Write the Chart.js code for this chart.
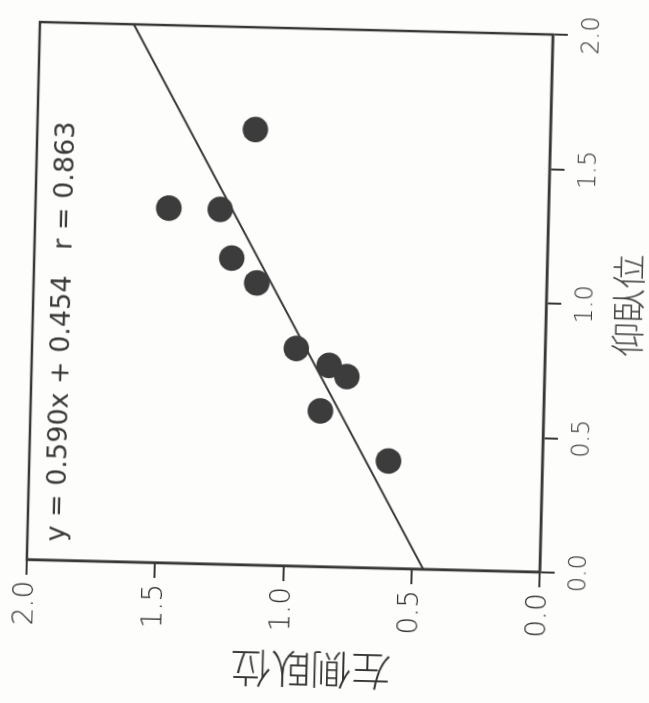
<!DOCTYPE html>
<html>
<head>
<meta charset="utf-8">
<script src="https://cdn.jsdelivr.net/npm/chart.js@4"></script>
<style>
  html, body { margin: 0; padding: 0; background: #fdfdfc; overflow: hidden; }
  body { width: 649px; height: 703px; position: relative; }
  /* the scanned figure is turned on its side, drawn upright then rotated */
  #wrap {
    position: absolute;
    left: -27px; top: 27px;
    width: 703px; height: 649px;
    transform: rotate(-88.6deg);
    transform-origin: 50% 50%;
  }
</style>
</head>
<body>
<div id="wrap"><canvas id="c" width="703" height="649"></canvas></div>
<script>
// 仰臥位 (x) vs 左側臥位 (y)
const supine = [1.62, 1.32, 1.32, 1.14, 1.05, 0.81, 0.75, 0.71, 0.58, 0.40];
const leftLateral = [1.15, 1.48, 1.28, 1.23, 1.13, 0.97, 0.84, 0.77, 0.87, 0.60];

// fitted line as printed on the figure
const slope = 0.590;
const intercept = 0.454;
const corr = 0.863;
const lineX = [0, 2];

const axisTicks = [0, 0.5, 1.0, 1.5, 2.0];
const xTitle = '仰臥位';
const yTitle = '左側臥位\u3000\u2002'; // trailing space nudges it off-centre like the scan

const ink = '#383838';
const font = '"DejaVu Sans", "Liberation Sans", sans-serif';
const cjk = '"Noto Sans CJK JP", sans-serif';

const frame = {
  id: 'frame',
  beforeDatasetsDraw(chart) {
    const { ctx, chartArea: a } = chart;
    ctx.save();
    ctx.strokeStyle = ink;
    ctx.lineWidth = 2.5;
    ctx.strokeRect(a.left, a.top, a.right - a.left, a.bottom - a.top);
    ctx.restore();
  },
  afterDraw(chart) {
    const { ctx, chartArea: a } = chart;
    ctx.save();
    ctx.fillStyle = '#3a3a3a';
    ctx.font = '27px ' + font;
    ctx.textBaseline = 'middle';
    ctx.fillText('y = ' + slope.toFixed(3) + 'x + ' + intercept.toFixed(3) + '   r = ' + corr.toFixed(3), a.left + 19, a.top + 30);
    ctx.restore();
  }
};

new Chart(document.getElementById('c').getContext('2d'), {
  type: 'scatter',
  data: {
    datasets: [
      {
        type: 'line',
        data: lineX.map(x => ({ x: x, y: slope * x + intercept })),
        borderColor: ink,
        borderWidth: 2,
        pointRadius: 0,
        order: 2
      },
      {
        data: supine.map((x, i) => ({ x: x, y: leftLateral[i] })),
        backgroundColor: '#3c3c3c',
        borderColor: '#3c3c3c',
        borderWidth: 0,
        pointRadius: 12.8,
        order: 1
      }
    ]
  },
  options: {
    responsive: false,
    animation: false,
    devicePixelRatio: 1,
    layout: { padding: { top: 32, right: 21, left: 0, bottom: 0 } },
    plugins: { legend: { display: false }, tooltip: { enabled: false } },
    scales: {
      x: {
        type: 'linear',
        min: 0, max: 2,
        afterBuildTicks: s => { s.ticks = axisTicks.map(v => ({ value: v })); },
        afterFit: s => { s.height = 104; },
        ticks: {
          color: '#333',
          padding: 10,
          font: { family: font, size: 24, weight: '300' },
          callback: v => v.toFixed(1)
        },
        grid: { drawOnChartArea: false, tickLength: 15, color: ink, lineWidth: 2 },
        border: { display: true, color: ink, width: 2.5 },
        title: {
          display: true,
          text: xTitle,
          color: '#444',
          padding: { top: 4, bottom: 2 },
          font: { family: cjk, size: 34, weight: '300' }
        }
      },
      y: {
        type: 'linear',
        min: 0, max: 2,
        afterBuildTicks: s => { s.ticks = axisTicks.map(v => ({ value: v })); },
        afterFit: s => { s.width = 136; },
        ticks: {
          color: '#333',
          padding: 6,
          font: { family: font, size: 28, weight: '300' },
          callback: v => v.toFixed(1)
        },
        grid: { drawOnChartArea: false, tickLength: 15, color: ink, lineWidth: 2 },
        border: { display: true, color: ink, width: 2.5 },
        title: {
          display: true,
          text: yTitle,
          color: '#333',
          padding: { top: 9, bottom: 2 },
          font: { family: cjk, size: 40, weight: '300' }
        }
      }
    }
  },
  plugins: [frame]
});
</script>
</body>
</html>
